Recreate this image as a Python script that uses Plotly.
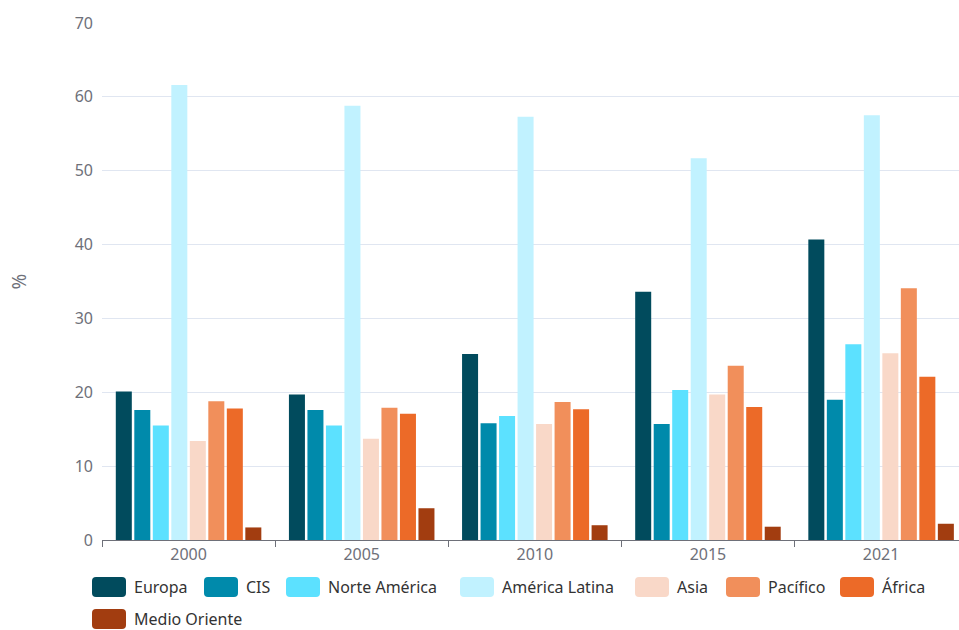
import plotly.graph_objects as go

years = ["2000", "2005", "2010", "2015", "2021"]
europa = [20.1, 19.7, 25.2, 33.6, 40.7]
cis = [17.6, 17.6, 15.8, 15.7, 19.0]
norte_america = [15.5, 15.5, 16.8, 20.3, 26.5]
america_latina = [61.6, 58.8, 57.3, 51.7, 57.5]
asia = [13.4, 13.7, 15.7, 19.7, 25.3]
pacifico = [18.8, 17.9, 18.7, 23.6, 34.1]
africa = [17.8, 17.1, 17.7, 18.0, 22.1]
medio_oriente = [1.7, 4.3, 2.0, 1.8, 2.2]

series = [
    ("Europa", europa, "#014b5d"),
    ("CIS", cis, "#008aab"),
    ("Norte América", norte_america, "#5ce1ff"),
    ("América Latina", america_latina, "#c1f2ff"),
    ("Asia", asia, "#f9d8c8"),
    ("Pacífico", pacifico, "#f18f5b"),
    ("África", africa, "#ec6a28"),
    ("Medio Oriente", medio_oriente, "#a23d10"),
]

# legend layout (pixel positions of each swatch's left edge and row centre)
legend_pos = [(92, 587), (204, 587), (286, 587), (460, 587),
              (635, 587), (726, 587), (840, 587), (92, 619)]

W, H = 959, 630
ML, MR, MT, MB = 102, 0, 23, 90
PW, PH = W - ML - MR, H - MT - MB


def px_x(px):
    return (px - ML) / PW


def px_y(py):
    return (H - MB - py) / PH


fig = go.Figure()
for name, vals, color in series:
    fig.add_trace(go.Bar(x=years, y=vals, name=name, marker_color=color,
                         marker_line_width=0, showlegend=False))

shapes = []
annotations = []
sw, sh, r = 34, 20, 4
for (name, _, color), (lx, cy) in zip(series, legend_pos):
    x0, x1 = lx, lx + sw
    y0, y1 = cy - sh / 2, cy + sh / 2
    pts = (
        f"M {px_x(x0 + r)} {px_y(y0)} L {px_x(x1 - r)} {px_y(y0)} "
        f"Q {px_x(x1)} {px_y(y0)} {px_x(x1)} {px_y(y0 + r)} "
        f"L {px_x(x1)} {px_y(y1 - r)} Q {px_x(x1)} {px_y(y1)} {px_x(x1 - r)} {px_y(y1)} "
        f"L {px_x(x0 + r)} {px_y(y1)} Q {px_x(x0)} {px_y(y1)} {px_x(x0)} {px_y(y1 - r)} "
        f"L {px_x(x0)} {px_y(y0 + r)} Q {px_x(x0)} {px_y(y0)} {px_x(x0 + r)} {px_y(y0)} Z"
    )
    shapes.append(dict(type="path", xref="paper", yref="paper", path=pts,
                       fillcolor=color, line=dict(width=0)))
    annotations.append(dict(text=name, xref="paper", yref="paper",
                            x=px_x(x1 + 6), y=px_y(cy), xanchor="left", yanchor="middle",
                            showarrow=False, font=dict(size=16, color="#333333")))

fig.update_layout(
    width=W, height=H,
    margin=dict(l=ML, r=MR, t=MT, b=MB),
    paper_bgcolor="white", plot_bgcolor="white",
    barmode="group", bargap=0.145, bargroupgap=0.135,
    font=dict(family="Noto Sans, Open Sans, sans-serif", size=16, color="#6e7079"),
    showlegend=False,
    shapes=shapes,
    annotations=annotations,
)
fig.update_xaxes(type="category", range=[-0.5, 4.45], showline=True, linecolor="#6e7079",
                 ticks="outside", tickson="boundaries", ticklen=6, tickcolor="#6e7079",
                 showgrid=False, tickfont=dict(size=16, color="#6e7079"))
fig.update_yaxes(range=[0, 70], dtick=10, showgrid=True, gridcolor="#e0e6f1",
                 zeroline=False, showline=False, ticks="", ticklabelstandoff=8,
                 tickfont=dict(size=16, color="#6e7079"),
                 title=dict(text="%", font=dict(size=19, color="#6e7079"), standoff=43))

fig.write_html("out.html")
